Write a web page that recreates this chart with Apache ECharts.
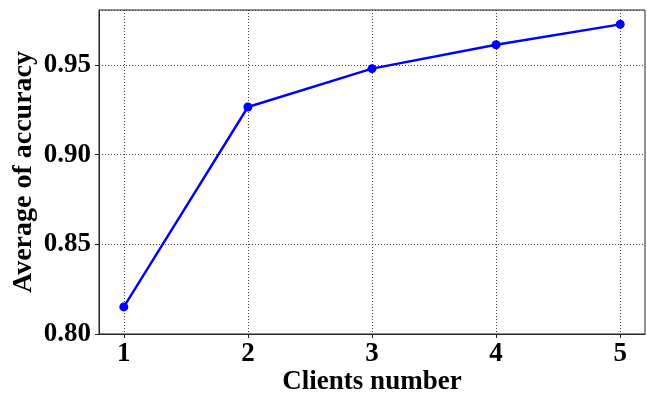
<!DOCTYPE html>
<html>
<head>
<meta charset="utf-8">
<script src="https://cdn.jsdelivr.net/npm/echarts@6/dist/echarts.min.js"></script>
<style>
  html, body { margin: 0; padding: 0; background: #fff; }
  #chart { width: 647px; height: 395px; }
</style>
</head>
<body>
<div id="chart"></div>
<script>
// Number of participating clients and the mean accuracy reached
const clients = [1, 2, 3, 4, 5];
const accuracy = [0.8151, 0.9266, 0.9480, 0.9613, 0.9727];
const xTicks = [1, 2, 3, 4, 5];

const FONT = "'Liberation Serif', 'Times New Roman', serif";

const chart = echarts.init(document.getElementById('chart'), null, { renderer: 'canvas' });

chart.setOption({
  animation: false,
  backgroundColor: '#ffffff',
  grid: {
    left: 99, top: 10, right: 2, bottom: 61,
    outerBoundsMode: 'none',
    containLabel: false,
    show: true, borderColor: '#222', borderWidth: 1, backgroundColor: 'transparent'
  },
  xAxis: {
    type: 'value',
    min: 0.8,
    max: 5.2,
    name: 'Clients number',
    nameLocation: 'middle',
    nameMoveOverlap: false,
    nameGap: 35,
    nameTextStyle: { fontFamily: FONT, fontWeight: 'bold', fontSize: 27, color: '#000' },
    axisLine: { show: true, lineStyle: { color: '#222', width: 1 } },
    axisTick: { show: true, inside: false, length: 4, customValues: xTicks, lineStyle: { color: '#222' } },
    axisLabel: { customValues: xTicks, margin: 7, fontFamily: FONT, fontWeight: 'bold', fontSize: 27, color: '#000' },
    splitLine: { show: true, lineStyle: { color: '#444', width: 1, type: [1, 2] } }
  },
  yAxis: {
    type: 'value',
    min: 0.80,
    max: 0.9807,
    interval: 0.05,
    name: 'Average of accuracy',
    nameLocation: 'middle',
    nameMoveOverlap: false,
    nameGap: 61,
    nameTextStyle: { fontFamily: FONT, fontWeight: 'bold', fontSize: 28, color: '#000' },
    axisLine: { show: true, lineStyle: { color: '#222', width: 1 } },
    axisTick: { show: true, inside: false, length: 4, lineStyle: { color: '#222' } },
    axisLabel: {
      margin: 8, showMaxLabel: false, fontFamily: FONT, fontWeight: 'bold', fontSize: 27, color: '#000',
      formatter: v => v.toFixed(2)
    },
    splitLine: { show: true, lineStyle: { color: '#444', width: 1, type: [1, 2] } }
  },
  series: [{
    type: 'line',
    data: clients.map((c, i) => [c, accuracy[i]]),
    symbol: 'circle',
    symbolSize: 9,
    lineStyle: { color: '#0000ff', width: 2.4 },
    itemStyle: { color: '#0000ff' },
    z: 5
  }]
});
</script>
</body>
</html>
